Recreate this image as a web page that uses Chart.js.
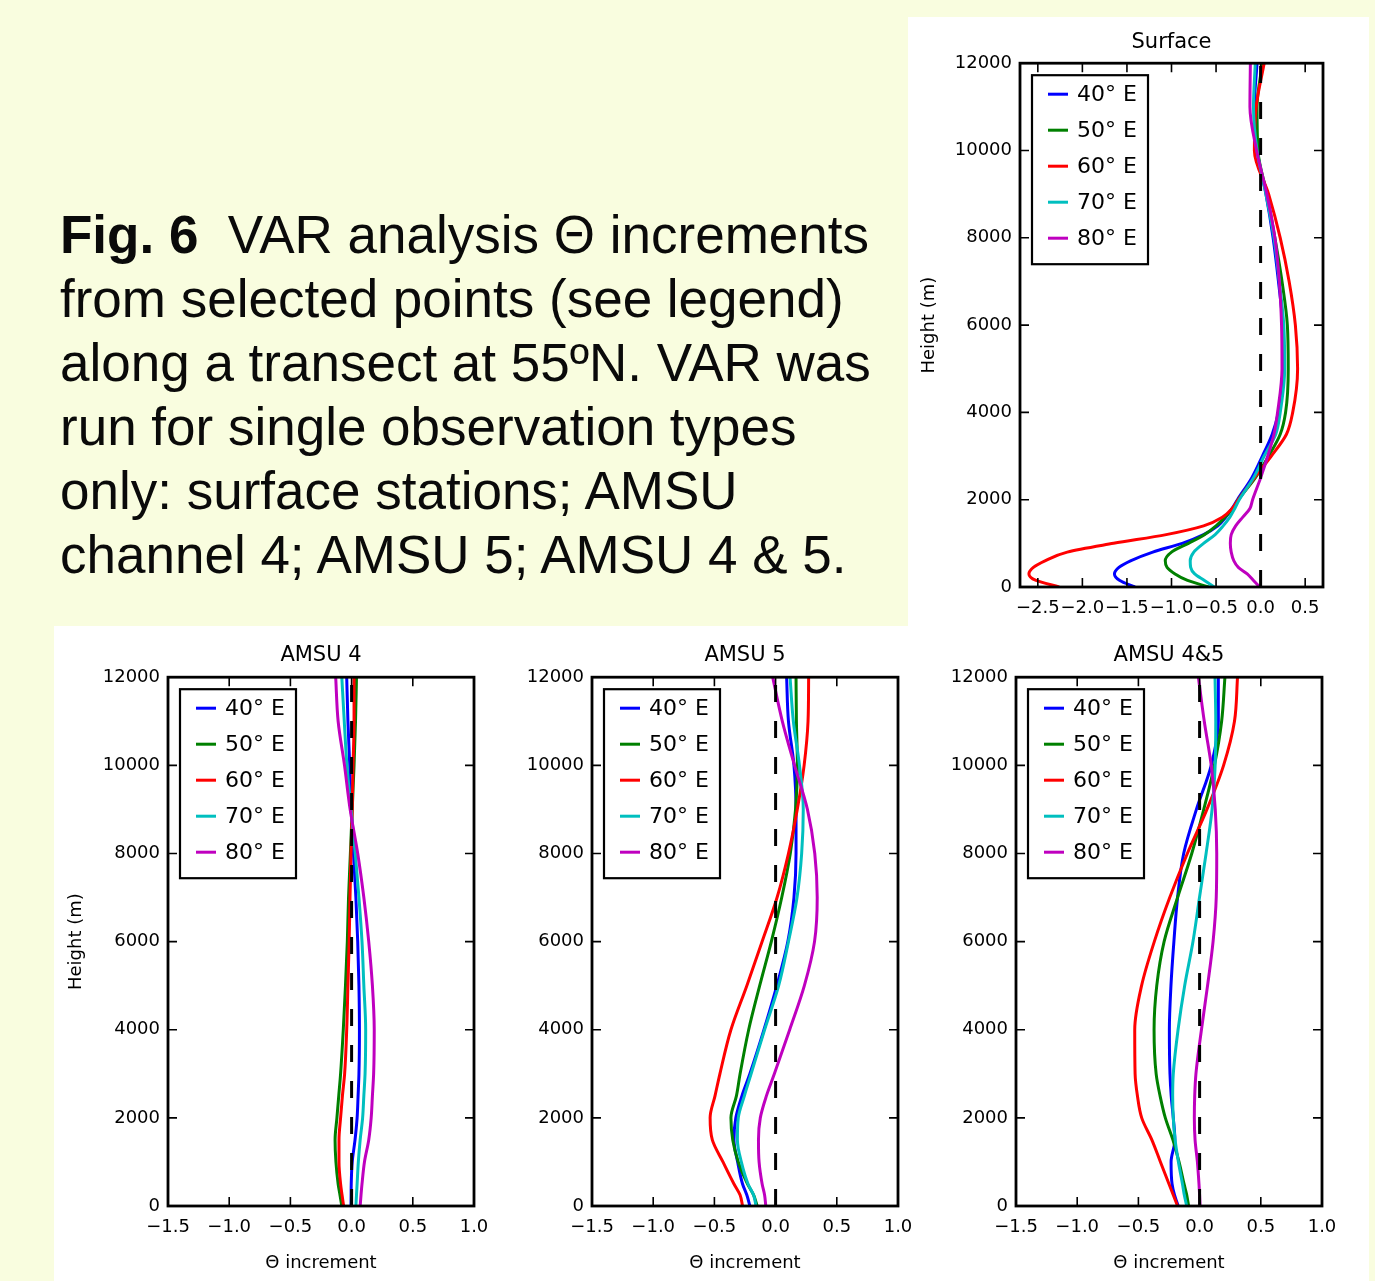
<!DOCTYPE html>
<html><head><meta charset="utf-8">
<script src="https://cdn.jsdelivr.net/npm/chart.js@4.4.1/dist/chart.umd.min.js"></script>
<style>
html,body{margin:0;padding:0;}
body{width:1375px;height:1281px;background:#f9fddf;position:relative;overflow:hidden;}
.box{position:absolute;background:#fff;}
canvas{position:absolute;}
#caption{position:absolute;left:60px;top:203px;font-family:'Liberation Sans',Arial,sans-serif;font-size:53px;line-height:64px;color:#0a0a0a;white-space:nowrap;}
</style></head><body>
<div class="box" style="left:908px;top:17px;width:461px;height:612px"></div>
<div class="box" style="left:54px;top:626px;width:1315px;height:655px"></div>
<div id="caption"><b>Fig. 6</b>&nbsp; VAR analysis Θ increments<br>from selected points (see legend)<br>along a transect at 55ºN. VAR was<br>run for single observation types<br>only: surface stations; AMSU<br>channel 4; AMSU 5; AMSU 4 &amp; 5.</div>
<canvas id="cSurface" width="461" height="610" style="left:908px;top:17px"></canvas>
<canvas id="cAmsu4" width="446" height="655" style="left:54px;top:626px"></canvas>
<canvas id="cAmsu5" width="425" height="655" style="left:500px;top:626px"></canvas>
<canvas id="cAmsu45" width="444" height="655" style="left:925px;top:626px"></canvas>
<script>
// ---------- data ----------
const seriesLabels = ['40° E', '50° E', '60° E', '70° E', '80° E'];
const heightTicks = [0, 2000, 4000, 6000, 8000, 10000, 12000];
const surfaceIncrementTicks = [-2.5, -2.0, -1.5, -1.0, -0.5, 0.0, 0.5];
const amsuIncrementTicks = [-1.5, -1.0, -0.5, 0.0, 0.5, 1.0];

// Surface panel (heights in m)
const surfaceHeights = [0, 150, 300, 450, 600, 800, 1000, 1200, 1400, 1600, 1800, 2000, 2500, 3000, 3500, 4000, 5000, 6000, 7000, 8000, 9000, 10000, 11000, 12000];
const surface40E = [-1.41, -1.58, -1.64, -1.59, -1.46, -1.21, -0.88, -0.64, -0.48, -0.39, -0.32, -0.26, -0.10, 0.02, 0.13, 0.20, 0.26, 0.25, 0.20, 0.14, 0.06, -0.04, -0.07, -0.04];
const surface50E = [-0.58, -0.82, -0.96, -1.05, -1.07, -1.00, -0.81, -0.63, -0.50, -0.40, -0.31, -0.25, -0.06, 0.09, 0.22, 0.28, 0.31, 0.30, 0.24, 0.16, 0.07, -0.03, -0.04, 0.02];
const surface60E = [-2.26, -2.52, -2.60, -2.55, -2.42, -2.17, -1.65, -1.06, -0.64, -0.43, -0.32, -0.25, -0.07, 0.12, 0.29, 0.36, 0.415, 0.39, 0.32, 0.22, 0.09, -0.07, -0.05, 0.04];
const surface70E = [-0.52, -0.63, -0.74, -0.785, -0.79, -0.75, -0.64, -0.51, -0.42, -0.345, -0.29, -0.24, -0.08, 0.04, 0.17, 0.22, 0.27, 0.26, 0.21, 0.15, 0.06, -0.04, -0.08, -0.06];
const surface80E = [-0.01, -0.08, -0.15, -0.25, -0.30, -0.33, -0.34, -0.33, -0.28, -0.20, -0.12, -0.09, 0.0, 0.08, 0.15, 0.19, 0.24, 0.235, 0.21, 0.16, 0.07, -0.045, -0.12, -0.115];

// AMSU panels (heights in m)
const amsuHeights = [0, 250, 500, 1000, 1500, 2000, 2500, 3000, 4000, 5000, 6000, 7000, 8000, 9000, 10000, 11000, 12000];

const amsu4_40E = [-0.005, -0.004, -0.003, 0.005, 0.028, 0.045, 0.053, 0.06, 0.064, 0.06, 0.05, 0.035, 0.015, -0.003, -0.015, -0.03, -0.04];
const amsu4_50E = [-0.08, -0.095, -0.11, -0.128, -0.135, -0.12, -0.105, -0.09, -0.068, -0.05, -0.035, -0.025, -0.01, 0.005, 0.02, 0.032, 0.04];
const amsu4_60E = [-0.065, -0.078, -0.09, -0.103, -0.103, -0.09, -0.075, -0.057, -0.04, -0.03, -0.02, -0.013, -0.005, 0.005, 0.012, 0.02, 0.02];
const amsu4_70E = [0.035, 0.04, 0.045, 0.055, 0.07, 0.09, 0.10, 0.11, 0.115, 0.10, 0.085, 0.06, 0.03, -0.005, -0.038, -0.06, -0.08];
const amsu4_80E = [0.07, 0.077, 0.085, 0.105, 0.14, 0.16, 0.17, 0.18, 0.185, 0.17, 0.14, 0.10, 0.05, -0.012, -0.058, -0.11, -0.13];

const amsu5_40E = [-0.21, -0.235, -0.27, -0.31, -0.34, -0.325, -0.275, -0.21, -0.095, 0.01, 0.10, 0.15, 0.167, 0.167, 0.15, 0.105, 0.09];
const amsu5_50E = [-0.15, -0.18, -0.23, -0.305, -0.35, -0.365, -0.32, -0.29, -0.22, -0.13, -0.035, 0.05, 0.12, 0.163, 0.178, 0.17, 0.167];
const amsu5_60E = [-0.27, -0.29, -0.34, -0.43, -0.517, -0.535, -0.495, -0.455, -0.365, -0.235, -0.11, 0.012, 0.105, 0.177, 0.233, 0.265, 0.27];
const amsu5_70E = [-0.16, -0.18, -0.225, -0.28, -0.312, -0.305, -0.255, -0.20, -0.09, 0.025, 0.105, 0.175, 0.213, 0.226, 0.195, 0.145, 0.118];
const amsu5_80E = [-0.08, -0.09, -0.11, -0.135, -0.14, -0.125, -0.075, -0.01, 0.115, 0.235, 0.318, 0.34, 0.32, 0.26, 0.155, 0.055, -0.024];

const amsu45_40E = [-0.175, -0.205, -0.225, -0.233, -0.202, -0.215, -0.232, -0.242, -0.247, -0.234, -0.21, -0.18, -0.13, -0.026, 0.095, 0.153, 0.153];
const amsu45_50E = [-0.09, -0.105, -0.127, -0.168, -0.218, -0.28, -0.323, -0.355, -0.372, -0.35, -0.29, -0.18, -0.064, 0.034, 0.121, 0.18, 0.207];
const amsu45_60E = [-0.18, -0.215, -0.25, -0.32, -0.39, -0.473, -0.508, -0.527, -0.53, -0.474, -0.37, -0.244, -0.10, 0.06, 0.196, 0.285, 0.31];
const amsu45_70E = [-0.105, -0.125, -0.14, -0.173, -0.20, -0.215, -0.22, -0.215, -0.176, -0.122, -0.054, -0.001, 0.053, 0.102, 0.127, 0.132, 0.126];
const amsu45_80E = [0.004, 0.0, -0.005, -0.018, -0.037, -0.043, -0.04, -0.03, 0.015, 0.065, 0.11, 0.136, 0.14, 0.128, 0.095, 0.038, -0.01];

// ---------- styles ----------
const lineColors = ['#0000ff', '#008000', '#ff0000', '#00bfbf', '#bf00bf'];
const FONT = "'DejaVu Sans', 'Bitstream Vera Sans', sans-serif";
Chart.defaults.font.family = FONT;
Chart.defaults.color = '#000';

function pts(h, v) { return h.map((y, i) => ({ x: v[i], y: y })); }
function fmtInc(v) { return (v < 0 ? '\u2212' : '') + Math.abs(v).toFixed(1); }

const framePlugin = {
  id: 'frameAndLegend',
  afterDatasetsDraw(chart) {
    const { ctx, chartArea: a, scales: { x, y } } = chart;
    ctx.save();
    ctx.strokeStyle = '#000';
    ctx.lineWidth = 1.6;
    ctx.beginPath();
    const tl = 9;
    x.ticks.forEach(t => {
      const px = x.getPixelForValue(t.value);
      ctx.moveTo(px, a.bottom); ctx.lineTo(px, a.bottom - tl);
      ctx.moveTo(px, a.top); ctx.lineTo(px, a.top + tl);
    });
    y.ticks.forEach(t => {
      const py = y.getPixelForValue(t.value);
      ctx.moveTo(a.left, py); ctx.lineTo(a.left + tl, py);
      ctx.moveTo(a.right, py); ctx.lineTo(a.right - tl, py);
    });
    ctx.stroke();
    ctx.lineWidth = 2.8;
    ctx.strokeRect(a.left, a.top, a.right - a.left, a.bottom - a.top);
    // legend box inside plot
    const bx = a.left + 12, by = a.top + 12, bw = 116, bh = 189;
    ctx.fillStyle = '#fff';
    ctx.fillRect(bx, by, bw, bh);
    ctx.lineWidth = 2.2;
    ctx.strokeRect(bx, by, bw, bh);
    ctx.font = '22px ' + FONT;
    ctx.textBaseline = 'middle';
    ctx.textAlign = 'left';
    chart.data.datasets.forEach((ds, i) => {
      if (ds.isRef) return;
      const yy = by + 19 + i * 36;
      ctx.strokeStyle = ds.borderColor;
      ctx.lineWidth = 3;
      ctx.beginPath(); ctx.moveTo(bx + 16, yy); ctx.lineTo(bx + 36, yy); ctx.stroke();
      ctx.fillStyle = '#000';
      ctx.fillText(ds.label, bx + 45, yy + 1);
    });
    ctx.restore();
  }
};

function buildChart(id, title, heights, series, xMin, xMax, xTicks, layout) {
  const datasets = series.map((vals, i) => ({
    label: seriesLabels[i],
    data: pts(heights, vals),
    borderColor: lineColors[i],
    borderWidth: 3,
    pointRadius: 0,
    cubicInterpolationMode: 'monotone',
    fill: false,
    order: 5 - i
  }));
  datasets.push({
    label: 'zero', isRef: true,
    data: [{ x: 0, y: 0 }, { x: 0, y: 12000 }],
    borderColor: '#000', borderWidth: 3, borderDash: [17, 19],
    pointRadius: 0, fill: false, order: 0
  });
  return new Chart(document.getElementById(id), {
    type: 'line',
    data: { datasets },
    plugins: [framePlugin],
    options: {
      responsive: false,
      animation: false,
      indexAxis: 'y',
      layout: { padding: { left: 0, right: layout.right, top: 0, bottom: 0 } },
      plugins: {
        legend: { display: false },
        tooltip: { enabled: false },
        title: {
          display: true, text: title, fullSize: false, color: '#000',
          font: { size: 21, weight: 'normal', family: FONT },
          padding: { top: layout.titleTop, bottom: layout.titleBottom }
        }
      },
      scales: {
        x: {
          type: 'linear', position: 'bottom', min: xMin, max: xMax,
          grid: { display: false, drawTicks: false }, border: { display: false },
          afterBuildTicks: s => { s.ticks = xTicks.map(v => ({ value: v })); },
          afterFit: s => { s.height = layout.xH; },
          ticks: { autoSkip: false, maxRotation: 0, minRotation: 0, padding: 11, color: '#000',
                   font: { size: 18, family: FONT }, callback: v => fmtInc(v) },
          title: { display: layout.xTitle, text: 'Θ increment', color: '#000',
                   font: { size: 18, family: FONT }, padding: { top: 0, bottom: 7 } }
        },
        y: {
          type: 'linear', position: 'left', min: 0, max: 12000,
          grid: { display: false, drawTicks: false }, border: { display: false },
          afterBuildTicks: s => { s.ticks = heightTicks.map(v => ({ value: v })); },
          afterFit: s => { s.width = layout.yW; },
          ticks: { autoSkip: false, padding: 8, color: '#000', font: { size: 18, family: FONT },
                   callback: v => String(v) },
          title: { display: layout.yTitle, text: 'Height (m)', color: '#000',
                   font: { size: 18, family: FONT }, padding: { top: layout.yTitlePad, bottom: 0 } }
        }
      }
    }
  });
}

buildChart('cSurface', 'Surface', surfaceHeights,
  [surface40E, surface50E, surface60E, surface70E, surface80E],
  -2.7, 0.7, surfaceIncrementTicks,
  { right: 46, titleTop: 13, titleBottom: 8, xH: 40, yW: 112, xTitle: false, yTitle: true, yTitlePad: 11 });

buildChart('cAmsu4', 'AMSU 4', amsuHeights,
  [amsu4_40E, amsu4_50E, amsu4_60E, amsu4_70E, amsu4_80E],
  -1.5, 1.0, amsuIncrementTicks,
  { right: 26, titleTop: 17, titleBottom: 9, xH: 75, yW: 114, xTitle: true, yTitle: true, yTitlePad: 12 });

buildChart('cAmsu5', 'AMSU 5', amsuHeights,
  [amsu5_40E, amsu5_50E, amsu5_60E, amsu5_70E, amsu5_80E],
  -1.5, 1.0, amsuIncrementTicks,
  { right: 27, titleTop: 17, titleBottom: 9, xH: 75, yW: 92, xTitle: true, yTitle: false, yTitlePad: 0 });

buildChart('cAmsu45', 'AMSU 4&5', amsuHeights,
  [amsu45_40E, amsu45_50E, amsu45_60E, amsu45_70E, amsu45_80E],
  -1.5, 1.0, amsuIncrementTicks,
  { right: 47, titleTop: 17, titleBottom: 9, xH: 75, yW: 91, xTitle: true, yTitle: false, yTitlePad: 0 });
</script>
</body></html>
